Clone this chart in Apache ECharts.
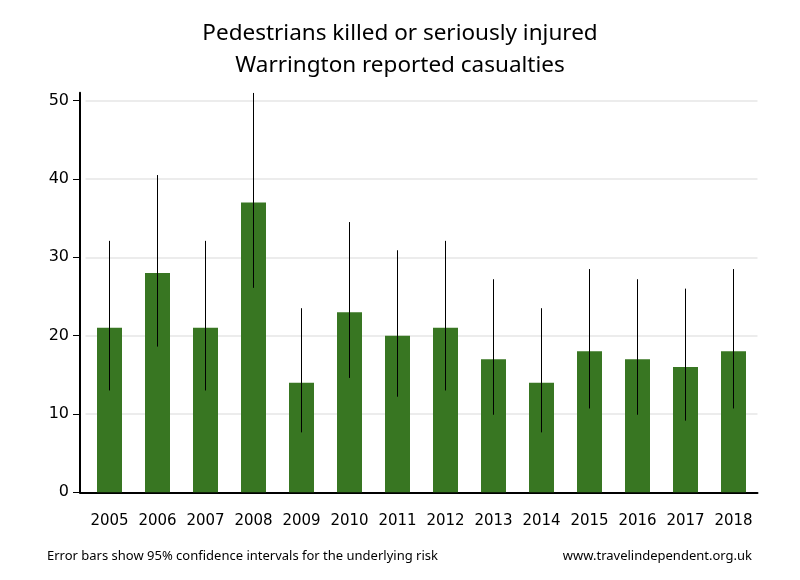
<!DOCTYPE html>
<html>
<head>
<meta charset="utf-8">
<script src="https://cdn.jsdelivr.net/npm/echarts@6/dist/echarts.min.js"></script>
<style>html,body{margin:0;padding:0;background:#fff}#c{width:800px;height:580px}</style>
</head>
<body>
<div id="c"></div>
<script>
var years = ['2005','2006','2007','2008','2009','2010','2011','2012','2013','2014','2015','2016','2017','2018'];
var casualties = [21, 28, 21, 37, 14, 23, 20, 21, 17, 14, 18, 17, 16, 18];
var ciLower = [13.0, 18.6, 13.0, 26.1, 7.65, 14.6, 12.2, 13.0, 9.9, 7.65, 10.7, 9.9, 9.15, 10.7];
var ciUpper = [32.1, 40.5, 32.1, 51.0, 23.5, 34.5, 30.9, 32.1, 27.2, 23.5, 28.5, 27.2, 26.0, 28.5];
var yTicks = [0, 10, 20, 30, 40, 50];

var chart = echarts.init(document.getElementById('c'));
var errData = years.map(function (y, i) { return [i, ciLower[i], ciUpper[i]]; });

var gridPos = { top: 92.8, bottom: 87.7, right: 42.5 };

chart.setOption({
  backgroundColor: '#fff',
  animation: false,
  title: [
    {
      text: 'Pedestrians killed or seriously injured\nWarrington reported casualties',
      left: 'center', top: 13,
      textStyle: { fontFamily: 'Noto Sans', fontSize: 22.5, fontWeight: 'normal', color: '#000', lineHeight: 32 }
    },
    {
      text: 'Error bars show 95% confidence intervals for the underlying risk',
      left: 42, top: 545,
      textStyle: { fontFamily: 'Liberation Sans Narrow, Noto Sans', fontSize: 13, fontWeight: 'normal', color: '#000' }
    },
    {
      text: 'www.travelindependent.org.uk',
      right: 43, top: 545,
      textStyle: { fontFamily: 'Liberation Sans Narrow, Noto Sans', fontSize: 13, fontWeight: 'normal', color: '#000' }
    }
  ],
  grid: [
    { left: 85.5, right: gridPos.right, top: gridPos.top, bottom: gridPos.bottom },
    { left: 80, right: gridPos.right, top: gridPos.top, bottom: gridPos.bottom }
  ],
  xAxis: [
    {
      type: 'category', data: years, gridIndex: 0,
      axisLine: { show: false },
      axisTick: { show: false },
      axisLabel: { interval: 0, fontFamily: 'DejaVu Sans', fontSize: 15, color: '#000', margin: 21 }
    },
    {
      type: 'value', gridIndex: 1, min: 0, max: 1,
      axisLine: { show: true, lineStyle: { color: '#000', width: 2 } },
      axisTick: { show: false }, axisLabel: { show: false }, splitLine: { show: false }
    }
  ],
  yAxis: [
    {
      type: 'value', gridIndex: 0, min: 0, max: 51, interval: 10, offset: 5.5,
      axisLine: { show: true, lineStyle: { color: '#000', width: 2 } },
      axisTick: { show: true, length: 7, lineStyle: { color: '#000', width: 1 }, customValues: yTicks },
      axisLabel: { fontFamily: 'DejaVu Sans', fontSize: 16, color: '#000', margin: 11, customValues: yTicks },
      splitLine: { show: false }
    },
    {
      type: 'value', gridIndex: 1, min: 0, max: 51, show: false
    }
  ],
  series: [
    {
      type: 'line', xAxisIndex: 0, yAxisIndex: 0, data: [], z: 0, silent: true,
      markLine: {
        z: 0, silent: true, symbol: ['none', 'none'], label: { show: false },
        lineStyle: { color: '#e6e6e6', width: 1.5, type: 'solid' },
        data: yTicks.slice(1).map(function (v) { return { yAxis: v }; })
      }
    },
    {
      type: 'bar', xAxisIndex: 0, yAxisIndex: 0, data: casualties, barWidth: 25,
      itemStyle: { color: '#387622' }, z: 2
    },
    {
      type: 'custom', xAxisIndex: 0, yAxisIndex: 0, data: errData, z: 3, clip: true,
      renderItem: function (params, api) {
        var lo = api.coord([api.value(0), api.value(1)]);
        var hi = api.coord([api.value(0), api.value(2)]);
        return {
          type: 'line',
          shape: { x1: lo[0], y1: lo[1], x2: hi[0], y2: hi[1] },
          style: { stroke: '#000', lineWidth: 1 }
        };
      }
    }
  ]
});
</script>
</body>
</html>
